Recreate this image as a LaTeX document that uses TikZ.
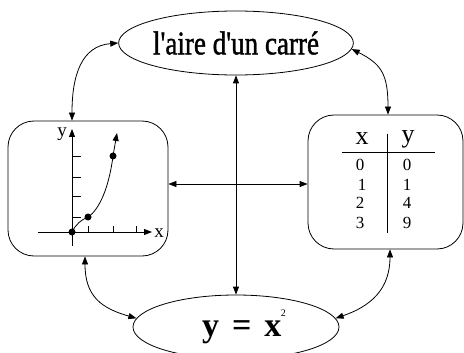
\documentclass[tikz,border=0pt]{standalone}
\usepackage{fontspec}
\setmainfont{Liberation Serif}
\newfontfamily\heavyserif[FakeBold=1.4]{Liberation Serif}
\usetikzlibrary{shapes.geometric,arrows.meta}
\begin{document}
\begin{tikzpicture}[x=1pt,y=-1pt, line width=0.8pt,
  tipend/.style={-{Triangle[length=8pt,width=6pt]}},
  both/.style={{Triangle[length=8pt,width=6pt]}-{Triangle[length=8pt,width=6pt]}},
  oval/.style={draw, ellipse, minimum width=206pt, minimum height=64pt, inner sep=0pt},
  panel/.style={draw, rounded corners=26pt, inner sep=0pt},
  lab/.style={inner sep=0pt, font=\fontsize{17}{17}\selectfont},
  axlab/.style={inner sep=0pt, font=\fontsize{19}{19}\selectfont},
  head/.style={inner sep=0pt, font=\fontsize{26}{26}\selectfont}]
\clip (0,0) rectangle (464,353);
\useasboundingbox (0,0) rectangle (464,353);

% main nodes
\node[oval] (T) at (236,43) {\raisebox{-2pt}{\scalebox{0.82}[1]{\fontsize{33}{33}\heavyserif l\textquotesingle aire d\textquotesingle un carré}}};
\node[oval] (B) at (236,327) {\raisebox{-4pt}{\fontsize{34}{34}\selectfont\bfseries \hspace*{16pt}y\hspace{13pt}=\hspace{13pt}x\kern-0.5pt\raisebox{20pt}{\fontsize{10}{10}\selectfont\mdseries 2}}};
\node[panel, minimum width=160pt, minimum height=135pt] (L) at (88,188.5) {};
\node[panel, minimum width=155pt, minimum height=134pt] (R) at (385.5,182) {};

% connectors
\coordinate (H) at (0,184);
\draw[both] (T.south) -- (B.north);
\draw[both] (L.east |- H) -- (R.west |- H);
\draw[both] ([xshift=-16pt]L.north) .. controls +(0,-45) and +(-37,3) .. (T.west);
\draw[both] (T.-3) .. controls +(30,15) and +(0,-40) .. ([xshift=2.5pt]R.north);
\draw[both] ([xshift=-3pt]L.south) .. controls +(0,40) and +(-35,-10) .. (B.175);
\draw[both] ([xshift=4.5pt]R.south) .. controls +(0,40) and +(35,-12) .. (B.5);

% graph in left panel
\draw[tipend] (72,246) -- (72,129);
\draw[tipend] (38,232) -- (152,232);
\node[axlab] (ylab) at (62,134) {y};
\node[axlab] (xlab) at (159,233) {x};
\foreach \yy in {156,177,196,217} \draw (72,\yy) -- (81,\yy);
\foreach \xx in {88,113,136} \draw (\xx,232) -- (\xx,226);
\draw[tipend] (72,232) .. controls (76,224) and (81,220) .. (88,217)
  .. controls (99,210) and (109,188) .. (113,156) -- (117,133);
\fill (72,232) circle (3.5);
\fill (88,217) circle (3.5);
\fill (113,156) circle (3.5);

% table in right panel
\node[head] (hx) at (362,139) {x};
\node[head] (hy) at (408,139) {y};
\draw (342,152) -- (435,152);
\draw (387,134) -- (387,233);
\node[lab] (x0) at (360,165) {0};
\node[lab] (x1) at (362,185) {1};
\node[lab] (x2) at (360,203) {2};
\node[lab] (x3) at (360,223) {3};
\node[lab] (y0) at (407,165) {0};
\node[lab] (y1) at (407,185) {1};
\node[lab] (y2) at (407,203) {4};
\node[lab] (y3) at (407,223) {9};
\end{tikzpicture}
\end{document}
